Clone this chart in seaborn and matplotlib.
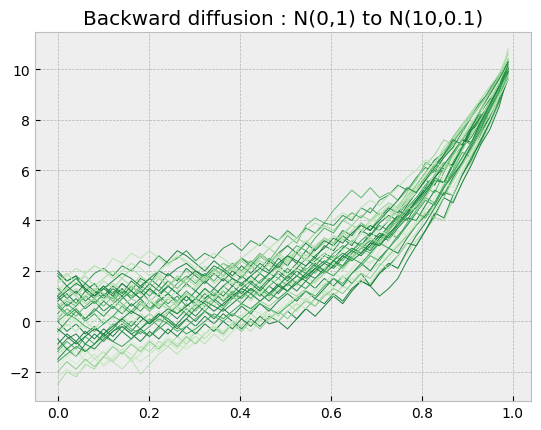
import numpy as np
import pandas as pd
import matplotlib
matplotlib.use("Agg")
import matplotlib.pyplot as plt
import seaborn as sns

# time grid (50 steps from 0 to 0.99)
t = np.linspace(0, 0.99, 50)

# paths (estimated)
p01 = [1.9, 1.6, 1.8, 1.5, 1.9, 2.1, 1.8, 2.2, 2.0, 2.4, 2.2, 2.6, 2.3, 2.5, 2.8, 2.4, 2.7, 2.5, 2.9, 3.1,
       2.8, 3.2, 3.0, 3.4, 3.2, 3.6, 3.3, 3.7, 3.5, 3.9, 3.8, 4.2, 4.0, 4.5, 4.3, 4.8, 5.0, 5.4, 5.2, 5.7,
       6.1, 5.9, 6.5, 6.9, 7.0, 7.6, 8.2, 8.0, 8.8, 10.1]
p02 = [0.5, 0.8, 0.6, 1.0, 0.7, 1.1, 0.9, 1.3, 1.0, 1.4, 1.2, 1.0, 1.4, 1.7, 1.5, 1.9, 1.6, 2.0, 2.3, 2.1,
       2.5, 2.3, 2.7, 2.4, 2.9, 3.4, 3.1, 3.8, 4.1, 3.9, 4.4, 4.8, 5.2, 4.9, 5.3, 4.9, 5.1, 4.8, 5.2, 5.6,
       6.3, 6.1, 6.6, 7.0, 7.3, 7.9, 8.3, 8.9, 9.5, 10.4]
p03 = [-2.5, -2.0, -2.2, -1.7, -1.9, -1.4, -1.6, -1.2, -1.5, -1.0, -1.2, -0.8, -1.0, -0.6, -0.9, -0.4, -0.7, -0.3, -0.5, 0.0,
       -0.2, 0.3, 0.0, 0.5, 0.2, 0.7, 0.4, 0.9, 0.6, 1.1, 1.0, 1.4, 1.2, 1.7, 1.5, 2.0, 2.3, 2.1, 2.7, 3.2,
       3.6, 4.1, 4.0, 4.8, 5.5, 6.3, 7.0, 7.8, 8.6, 9.7]
p04 = [0.0, -0.4, -0.1, -0.5, -0.2, -0.6, -0.3, 0.1, -0.2, 0.2, -0.1, 0.3, 0.0, -0.3, 0.1, -0.2, 0.2, -0.1, 0.3, 0.0,
       -0.3, 0.1, -0.2, 0.2, 0.0, 0.4, 0.1, 0.5, 0.9, 0.7, 1.1, 0.8, 1.3, 1.6, 1.4, 1.9, 2.2, 2.6, 3.1, 3.0,
       3.6, 4.2, 4.9, 4.7, 5.5, 6.2, 7.0, 7.6, 8.5, 9.8]
p05 = [1.0, 0.6, 0.9, 0.5, 0.8, 0.4, 0.7, 1.0, 0.6, 0.9, 0.5, 0.8, 1.1, 0.7, 1.0, 0.6, 0.9, 1.2, 0.8, 1.1,
       0.9, 1.3, 1.0, 1.4, 1.1, 1.5, 1.2, 1.6, 1.3, 1.7, 1.4, 1.8, 1.5, 1.9, 1.4, 1.0, 1.3, 1.7, 2.4, 3.0,
       3.6, 4.3, 4.1, 5.0, 5.8, 6.5, 7.1, 7.9, 8.8, 9.9]
p06 = [2.0, 1.6, 1.8, 1.2, 1.5, 1.0, 1.4, 1.1, 1.6, 1.3, 1.7, 1.4, 1.9, 1.6, 2.1, 1.8, 1.5, 1.9, 1.6, 2.0,
       1.7, 2.2, 1.9, 2.4, 2.1, 2.6, 2.3, 2.8, 2.5, 3.0, 2.8, 3.3, 3.0, 3.6, 3.4, 3.9, 4.2, 4.0, 4.6, 5.1,
       5.6, 5.4, 6.1, 6.6, 7.2, 7.0, 7.8, 8.4, 9.2, 10.1]
p07 = [1.2, 1.6, 1.4, 1.9, 2.2, 2.0, 2.5, 2.3, 2.7, 2.5, 2.8, 2.5, 2.2, 2.6, 2.3, 1.9, 2.2, 1.8, 2.1, 1.7,
       2.0, 1.6, 1.9, 2.3, 2.0, 2.4, 2.7, 2.5, 2.9, 3.2, 3.0, 3.5, 3.3, 3.8, 3.6, 4.1, 4.4, 4.2, 4.8, 5.3,
       5.7, 6.2, 6.0, 6.7, 7.3, 7.6, 8.3, 8.9, 9.4, 10.2]
p08 = [0.8, 1.1, 0.7, 1.2, 0.9, 1.3, 1.0, 1.5, 1.2, 1.7, 1.5, 2.0, 2.4, 2.8, 2.6, 2.3, 2.0, 2.4, 2.1, 1.8,
       2.2, 1.9, 2.3, 2.0, 2.5, 2.2, 2.7, 2.4, 2.9, 3.3, 3.1, 3.6, 3.4, 3.9, 3.6, 4.1, 4.5, 4.3, 4.9, 5.4,
       5.9, 6.4, 6.7, 7.3, 7.8, 8.2, 8.7, 9.1, 9.7, 10.0]
p09 = [-1.2, -0.8, -1.1, -0.6, -0.9, -0.5, -0.1, -0.4, 0.0, -0.3, 0.1, -0.2, 0.3, 0.6, 0.3, 0.7, 0.4, 0.8, 0.5, 0.9,
       1.2, 0.9, 1.3, 1.0, 1.4, 1.8, 1.5, 1.9, 2.2, 2.0, 2.4, 2.1, 2.6, 2.9, 2.7, 3.2, 3.5, 3.3, 3.9, 4.4,
       4.9, 4.7, 5.4, 6.0, 6.7, 6.5, 7.4, 8.1, 8.9, 10.0]
p10 = [-1.0, -1.4, -1.1, -1.6, -1.3, -1.8, -1.5, -1.2, -1.6, -1.3, -0.9, -1.2, -0.8, -1.1, -0.7, -0.4, -0.7, -0.3, -0.6, -0.2,
       0.1, -0.2, 0.2, 0.5, 0.3, 0.7, 1.0, 0.8, 1.2, 1.5, 1.3, 1.7, 2.0, 1.8, 2.3, 2.6, 2.4, 2.9, 3.4, 3.9,
       4.5, 4.3, 5.1, 5.8, 6.4, 6.9, 7.6, 8.1, 9.0, 9.9]
p11 = [0.3, 0.7, 0.4, 0.0, 0.3, -0.1, 0.2, 0.6, 0.3, 0.7, 0.4, 0.8, 1.1, 0.8, 1.2, 0.9, 1.3, 1.0, 1.4, 1.1,
       1.5, 1.2, 1.6, 1.9, 1.7, 2.1, 1.8, 2.2, 2.5, 2.3, 2.7, 3.0, 2.8, 3.2, 3.5, 3.3, 3.8, 4.1, 4.5, 4.9,
       5.4, 5.8, 6.3, 6.1, 6.9, 7.5, 8.1, 8.6, 9.3, 10.3]
p12 = [1.3, 0.9, 1.2, 0.8, 1.1, 1.4, 1.0, 1.3, 0.9, 1.2, 0.8, 1.1, 1.4, 1.1, 1.5, 1.2, 1.6, 1.3, 1.7, 1.4,
       1.8, 1.5, 1.9, 1.6, 2.0, 1.7, 2.1, 2.5, 2.2, 2.6, 2.4, 2.9, 3.2, 3.0, 3.5, 3.3, 3.8, 4.2, 4.0, 4.6,
       5.1, 5.6, 5.5, 6.2, 6.8, 7.5, 8.0, 8.6, 9.1, 9.9]
p13 = [-0.5, -0.1, -0.4, 0.0, -0.3, 0.1, -0.2, 0.2, -0.1, 0.3, 0.0, 0.4, 0.1, 0.5, 0.2, 0.6, 0.9, 0.6, 1.0, 0.7,
       1.1, 0.8, 1.2, 0.9, 1.3, 1.6, 1.4, 1.8, 1.5, 1.9, 2.2, 2.0, 2.5, 2.8, 2.6, 3.1, 3.4, 3.8, 4.2, 4.6,
       5.0, 5.5, 6.0, 6.4, 7.0, 7.5, 7.9, 8.6, 9.2, 9.8]
p14 = [0.9, 1.3, 1.0, 1.4, 1.1, 0.8, 1.2, 0.9, 1.3, 1.6, 1.3, 1.7, 1.4, 1.8, 1.5, 1.9, 1.6, 2.0, 2.3, 2.0,
       2.4, 2.1, 2.5, 2.9, 2.6, 3.0, 3.3, 3.1, 3.5, 3.8, 3.6, 4.0, 3.8, 4.2, 4.0, 4.4, 4.7, 4.5, 5.1, 5.6,
       6.2, 6.6, 7.2, 7.0, 7.8, 8.3, 8.8, 9.3, 9.7, 10.6]
p15 = [-1.8, -1.4, -1.7, -1.3, -1.0, -1.3, -0.9, -1.2, -0.8, -1.1, -0.7, -1.0, -0.6, -0.9, -0.5, -0.2, -0.5, -0.1, -0.4, 0.0,
       0.3, 0.0, 0.4, 0.1, 0.5, 0.9, 0.6, 1.0, 1.3, 1.1, 1.5, 1.8, 1.6, 2.1, 2.4, 2.2, 2.7, 3.1, 3.6, 4.0,
       4.6, 5.1, 5.7, 5.5, 6.3, 7.0, 7.6, 8.3, 9.0, 9.9]
p16 = [0.6, 0.2, 0.5, 0.1, 0.4, 0.8, 0.5, 0.9, 1.2, 0.9, 1.3, 1.0, 0.7, 1.0, 0.6, 0.9, 1.3, 1.0, 1.4, 1.7,
       1.4, 1.8, 1.5, 1.9, 2.2, 1.9, 2.3, 2.0, 2.4, 2.7, 2.5, 2.9, 3.2, 3.0, 3.4, 3.8, 3.6, 4.2, 4.7, 5.1,
       5.6, 6.0, 6.5, 6.9, 7.5, 8.1, 8.6, 9.2, 9.8, 10.1]
p17 = [-0.9, -0.5, -0.8, -0.4, -0.7, -0.3, -0.6, -0.2, -0.5, -0.8, -0.4, -0.7, -0.3, -0.6, -0.2, -0.5, -0.1, -0.4, 0.0, -0.3,
       0.1, -0.2, 0.2, -0.1, 0.0, -0.3, 0.1, 0.5, 0.2, 0.6, 1.0, 0.7, 1.2, 1.6, 1.4, 1.9, 2.3, 2.1, 2.8, 3.4,
       3.9, 4.5, 5.1, 5.0, 5.8, 6.4, 7.2, 7.9, 8.7, 9.6]
p18 = [1.6, 1.9, 1.5, 1.8, 1.4, 1.7, 2.0, 1.7, 2.1, 1.8, 1.5, 1.8, 1.4, 1.7, 2.0, 1.6, 1.9, 1.5, 1.8, 2.1,
       1.8, 2.2, 1.9, 2.3, 2.6, 2.3, 2.7, 2.4, 2.8, 3.1, 3.4, 3.2, 3.6, 3.9, 3.7, 4.1, 4.4, 4.2, 4.8, 5.2,
       5.8, 6.2, 6.7, 7.2, 7.6, 7.5, 8.3, 8.9, 9.5, 10.2]
p19 = [0.1, 0.5, 0.2, 0.6, 0.9, 0.6, 1.0, 0.7, 0.4, 0.8, 0.5, 0.9, 0.6, 0.3, 0.7, 0.4, 0.8, 1.1, 0.8, 1.2,
       0.9, 1.3, 1.0, 1.4, 1.7, 1.4, 1.8, 2.1, 1.9, 2.3, 2.6, 2.4, 2.8, 3.1, 2.9, 3.4, 3.7, 4.1, 4.5, 4.8,
       5.3, 5.1, 5.9, 6.6, 6.9, 7.6, 8.1, 8.7, 9.2, 10.0]
p20 = [-1.5, -1.1, -1.4, -0.9, -0.5, -0.8, -0.4, -0.1, -0.4, 0.0, 0.3, 0.0, 0.4, 0.1, 0.5, 0.2, 0.6, 0.9, 0.6, 1.0,
       0.7, 1.1, 1.4, 1.1, 1.5, 1.2, 1.6, 1.9, 1.7, 2.1, 2.4, 2.2, 2.7, 3.0, 2.8, 3.3, 3.6, 4.0, 4.4, 4.7,
       5.2, 5.7, 5.5, 6.2, 6.9, 7.6, 7.9, 8.7, 9.4, 10.1]
p21 = [-1.3, -1.0, -1.4, -1.1, -1.5, -1.2, -1.6, -1.9, -1.5, -2.1, -1.7, -1.3, -1.0, -1.3, -0.9, -0.6, -0.9, -0.5, -0.8, -0.4,
       -0.1, -0.4, 0.0, 0.3, 0.0, 0.4, 0.7, 0.5, 0.9, 1.2, 1.0, 1.4, 1.7, 1.5, 2.0, 2.3, 2.1, 2.6, 3.1, 3.5,
       4.1, 4.6, 5.2, 5.0, 5.9, 6.6, 7.3, 8.0, 8.8, 9.8]
p22 = [1.0, 1.4, 1.1, 1.5, 1.2, 0.9, 1.3, 1.0, 1.4, 1.1, 1.5, 1.2, 1.6, 1.3, 1.7, 2.0, 1.7, 2.1, 1.8, 2.2,
       2.5, 2.2, 2.6, 2.3, 2.7, 3.0, 2.7, 3.1, 2.8, 3.2, 3.0, 3.4, 3.1, 3.5, 3.8, 3.6, 4.0, 4.4, 4.2, 4.8,
       5.3, 5.8, 6.3, 6.2, 6.9, 7.6, 8.1, 8.6, 9.3, 10.0]
p23 = [-0.2, 0.2, -0.1, 0.3, 0.0, 0.4, 0.1, -0.2, 0.2, -0.1, 0.3, 0.0, 0.4, 0.7, 0.4, 0.8, 0.5, 0.9, 1.2, 0.9,
       1.3, 1.0, 1.4, 1.7, 1.5, 1.9, 1.6, 2.0, 2.3, 2.1, 2.5, 2.8, 2.6, 3.0, 3.3, 3.6, 3.4, 3.9, 4.3, 4.7,
       5.2, 5.9, 5.7, 6.5, 7.1, 7.0, 7.9, 8.6, 9.1, 9.9]
p24 = [0.7, 0.3, 0.6, 1.0, 0.7, 1.1, 0.8, 1.2, 0.9, 1.3, 1.0, 1.4, 1.1, 1.5, 1.8, 1.5, 1.9, 1.6, 2.0, 2.3,
       2.0, 2.4, 2.1, 2.5, 2.2, 2.6, 3.0, 2.8, 3.3, 3.7, 3.5, 4.0, 4.3, 4.1, 4.5, 4.2, 4.6, 4.4, 4.9, 5.3,
       5.7, 6.2, 6.6, 7.1, 7.6, 8.1, 8.6, 9.1, 9.6, 10.3]
p25 = [1.8, 1.4, 1.7, 1.3, 1.0, 1.4, 1.1, 1.5, 1.2, 0.9, 1.3, 1.0, 1.4, 1.1, 0.8, 1.2, 0.9, 1.3, 1.0, 1.4,
       1.1, 1.5, 1.2, 1.6, 1.9, 1.6, 2.0, 1.7, 2.1, 2.4, 2.2, 2.6, 2.9, 2.7, 3.1, 3.5, 3.3, 3.8, 4.3, 4.7,
       5.2, 5.7, 6.1, 6.6, 7.2, 7.7, 8.3, 8.8, 9.2, 10.1]
p26 = [-0.7, -1.1, -0.8, -1.2, -0.9, -0.5, -0.8, -0.4, -0.7, -0.3, -0.6, -0.2, -0.5, -0.1, 0.3, 0.0, 0.4, 0.1, 0.5, 0.2,
       0.6, 0.3, 0.7, 0.4, 0.8, 1.1, 0.8, 1.2, 0.9, 1.3, 1.7, 1.4, 1.9, 2.3, 2.0, 2.5, 2.9, 2.7, 3.3, 3.8,
       4.2, 4.7, 5.3, 5.8, 6.3, 6.9, 7.5, 8.1, 8.8, 9.9]
p27 = [0.2, -0.2, 0.1, -0.3, 0.0, 0.4, 0.1, 0.5, 0.2, 0.6, 0.9, 0.6, 1.0, 0.7, 1.1, 0.8, 1.2, 0.9, 1.3, 1.6,
       1.3, 1.7, 1.4, 1.8, 2.1, 1.8, 2.2, 2.5, 2.3, 2.7, 3.0, 2.8, 3.2, 3.5, 3.3, 3.7, 4.0, 4.4, 4.7, 5.1,
       5.5, 6.1, 6.0, 6.8, 7.4, 7.8, 8.4, 8.3, 9.2, 10.1]
p28 = [-2.0, -1.6, -1.9, -1.5, -1.8, -1.4, -1.0, -1.3, -0.9, -1.2, -0.8, -1.1, -0.7, -1.0, -0.6, -0.9, -0.5, -0.2, -0.5, -0.1,
       -0.4, 0.0, -0.3, 0.1, 0.4, 0.1, 0.5, 0.8, 0.6, 1.0, 1.3, 1.1, 1.5, 1.9, 1.7, 2.2, 2.6, 3.0, 3.4, 3.8,
       4.3, 4.1, 4.9, 5.6, 6.2, 6.8, 7.5, 8.3, 9.0, 9.8]
p29 = [1.4, 1.0, 1.3, 0.9, 1.2, 1.6, 1.3, 1.7, 1.4, 1.8, 1.5, 1.9, 1.6, 1.3, 1.7, 1.4, 1.8, 2.1, 1.8, 2.2,
       1.9, 2.3, 2.6, 2.3, 2.7, 2.4, 2.8, 3.2, 2.9, 3.3, 3.1, 3.5, 3.8, 3.6, 4.0, 4.3, 4.1, 4.6, 5.0, 5.4,
       5.9, 6.3, 6.8, 7.2, 7.7, 8.1, 8.6, 9.1, 9.6, 10.4]
p30 = [-0.4, 0.0, 0.4, 0.1, 0.5, 0.2, 0.6, 0.3, 0.7, 0.4, 0.8, 0.5, 0.9, 0.6, 1.0, 0.7, 1.1, 0.8, 1.2, 0.9,
       1.3, 1.6, 1.3, 1.7, 1.4, 1.8, 2.1, 1.9, 2.3, 2.0, 2.4, 2.7, 2.5, 2.9, 3.2, 3.0, 3.5, 3.8, 4.2, 4.5,
       5.0, 5.6, 5.5, 6.3, 6.9, 7.3, 7.9, 8.5, 9.4, 10.0]
p31 = [1.1, 1.3, 1.0, 0.7, 0.9, 1.3, 1.5, 1.2, 1.4, 1.1, 0.8, 0.6, 0.9, 1.2, 1.4, 1.3, 1.7, 2.0, 1.8, 1.5,
       1.7, 2.1, 2.4, 2.2, 2.0, 2.5, 2.8, 2.6, 3.0, 3.3, 3.1, 3.4, 3.8, 3.6, 3.9, 4.3, 4.0, 4.5, 4.9, 5.4,
       5.2, 5.8, 6.3, 6.1, 6.8, 7.4, 8.0, 8.7, 9.4, 10.8]
p32 = [-1.1, -0.7, -0.5, -0.9, -1.1, -0.7, -0.4, -0.2, -0.5, -0.3, 0.0, 0.3, 0.1, -0.2, 0.1, 0.5, 0.8, 0.6, 0.4, 0.7,
       1.0, 1.3, 1.1, 0.8, 1.2, 1.5, 1.8, 1.6, 2.0, 2.3, 2.1, 2.5, 2.8, 2.6, 3.0, 3.4, 3.2, 3.7, 4.1, 4.0,
       4.6, 5.2, 5.0, 5.7, 6.3, 7.0, 7.6, 8.4, 9.1, 10.2]
p33 = [0.5, 0.2, 0.0, 0.3, 0.6, 0.9, 0.7, 0.4, 0.2, 0.5, 0.8, 1.1, 0.9, 0.6, 0.4, 0.7, 1.0, 1.2, 0.9, 1.3,
       1.6, 1.4, 1.1, 1.5, 1.9, 2.2, 2.0, 2.4, 2.7, 2.5, 2.9, 3.3, 3.1, 3.5, 3.9, 4.2, 4.6, 4.4, 4.9, 5.3,
       5.8, 6.3, 6.1, 6.8, 7.3, 7.9, 8.3, 8.9, 9.5, 10.5]
p34 = [-2.2, -1.9, -2.1, -1.8, -1.5, -1.7, -1.4, -1.1, -1.3, -1.6, -1.3, -1.0, -0.7, -0.9, -1.1, -0.8, -0.5, -0.2, -0.4, -0.1,
       0.2, 0.5, 0.3, 0.0, 0.4, 0.7, 1.0, 0.8, 1.2, 1.5, 1.9, 1.7, 2.1, 2.5, 2.3, 2.8, 3.2, 3.6, 3.4, 3.9,
       4.4, 4.9, 5.5, 5.3, 6.0, 6.7, 7.3, 8.0, 8.9, 9.6]
p35 = [0.9, 1.2, 1.5, 1.3, 1.0, 1.3, 1.6, 1.9, 1.7, 1.4, 1.7, 2.0, 1.8, 2.1, 2.3, 2.0, 1.8, 2.2, 2.0, 1.7,
       1.5, 1.8, 2.1, 1.9, 2.3, 2.6, 2.4, 2.2, 2.6, 2.9, 3.3, 3.1, 3.5, 3.8, 3.6, 4.0, 4.4, 4.8, 5.3, 5.1,
       5.6, 6.1, 6.6, 7.2, 7.0, 7.7, 8.4, 9.0, 9.6, 10.3]
p36 = [0.0, 0.3, 0.1, -0.2, -0.4, -0.1, 0.2, 0.0, -0.3, -0.5, -0.2, 0.1, -0.1, -0.4, -0.2, 0.1, 0.4, 0.2, 0.0, 0.3,
       0.1, 0.4, 0.7, 0.5, 0.3, 0.6, 0.9, 1.2, 1.0, 1.4, 1.7, 1.5, 1.9, 2.2, 2.6, 2.4, 2.9, 3.3, 3.8, 4.3,
       4.1, 4.7, 5.3, 5.9, 6.5, 7.1, 7.8, 8.5, 9.2, 9.9]
p37 = [1.5, 1.8, 2.1, 1.9, 2.2, 2.0, 1.7, 2.0, 2.3, 2.1, 1.8, 2.0, 2.3, 2.6, 2.4, 2.1, 2.4, 2.7, 2.5, 2.2,
       2.5, 2.8, 3.1, 2.9, 3.2, 3.5, 3.3, 3.6, 3.9, 3.7, 4.0, 4.3, 4.1, 4.5, 4.8, 4.6, 5.0, 5.3, 5.7, 6.0,
       6.4, 6.2, 6.9, 7.3, 7.8, 8.2, 8.8, 9.3, 9.8, 10.7]
p38 = [-0.3, -0.6, -0.9, -0.6, -0.3, -0.5, -0.2, 0.1, 0.4, 0.2, -0.1, 0.2, 0.5, 0.3, 0.6, 0.9, 0.7, 0.4, 0.7, 1.0,
       1.3, 1.1, 0.8, 1.1, 1.4, 1.2, 1.5, 1.8, 2.1, 1.9, 2.2, 2.6, 2.4, 2.7, 3.1, 3.0, 3.4, 3.9, 4.3, 4.8,
       5.2, 5.7, 6.2, 6.7, 7.2, 7.1, 7.9, 8.6, 9.3, 9.9]
p39 = [0.6, 0.9, 0.7, 1.0, 1.3, 1.1, 0.8, 0.6, 0.9, 0.7, 0.4, 0.7, 0.5, 0.8, 1.1, 0.9, 0.6, 0.9, 1.2, 1.0,
       0.7, 0.5, 0.8, 0.6, 0.9, 1.2, 1.0, 1.3, 1.6, 1.9, 2.3, 2.1, 2.5, 2.9, 3.3, 3.1, 3.6, 4.0, 4.5, 4.4,
       4.9, 5.5, 6.0, 6.6, 7.2, 7.8, 8.4, 9.1, 9.7, 10.4]
p40 = [-1.6, -1.3, -1.0, -1.2, -0.9, -0.6, -0.8, -1.0, -0.7, -0.4, -0.6, -0.3, 0.0, -0.2, -0.5, -0.3, 0.0, 0.3, 0.1, 0.4,
       0.7, 0.5, 0.8, 1.1, 0.9, 1.2, 1.5, 1.3, 1.7, 2.0, 1.8, 2.2, 2.5, 2.3, 2.7, 3.1, 2.9, 3.4, 3.8, 4.3,
       4.8, 4.6, 5.3, 5.9, 6.5, 7.1, 7.7, 8.4, 9.1, 10.0]

paths = [p01, p02, p03, p04, p05, p06, p07, p08, p09, p10,
         p11, p12, p13, p14, p15, p16, p17, p18, p19, p20,
         p21, p22, p23, p24, p25, p26, p27, p28, p29, p30,
         p31, p32, p33, p34, p35, p36, p37, p38, p39, p40]

# long format for seaborn
df = pd.DataFrame({
    "t": np.tile(t, len(paths)),
    "x": np.concatenate(paths),
    "path": np.repeat(np.arange(len(paths)), len(t)),
})

# shade of green for each path (style, light and dark mixed)
shades = [0.7, 0.55, 0.35, 0.78, 0.75, 0.8, 0.3, 0.78, 0.6, 0.25,
          0.65, 0.75, 0.3, 0.4, 0.2, 0.7, 0.8, 0.35, 0.55, 0.75,
          0.3, 0.78, 0.2, 0.6, 0.75, 0.78, 0.25, 0.45, 0.35, 0.7,
          0.35, 0.75, 0.2, 0.25, 0.78, 0.6, 0.3, 0.8, 0.4, 0.65]
cmap = plt.get_cmap("Greens")
palette = {i: cmap(s) for i, s in enumerate(shades)}

plt.style.use("bmh")
fig, ax = plt.subplots(figsize=(5.41, 4.31), dpi=100)
fig.subplots_adjust(left=0.065, right=0.981, top=0.923, bottom=0.067)

sns.lineplot(data=df, x="t", y="x", hue="path", palette=palette, legend=False,
             estimator=None, sort=False, linewidth=0.7, ax=ax)

ax.set_title("Backward diffusion : N(0,1) to N(10,0.1)")
ax.set_xlabel("")
ax.set_ylabel("")

plt.savefig("out.png", dpi=100)
